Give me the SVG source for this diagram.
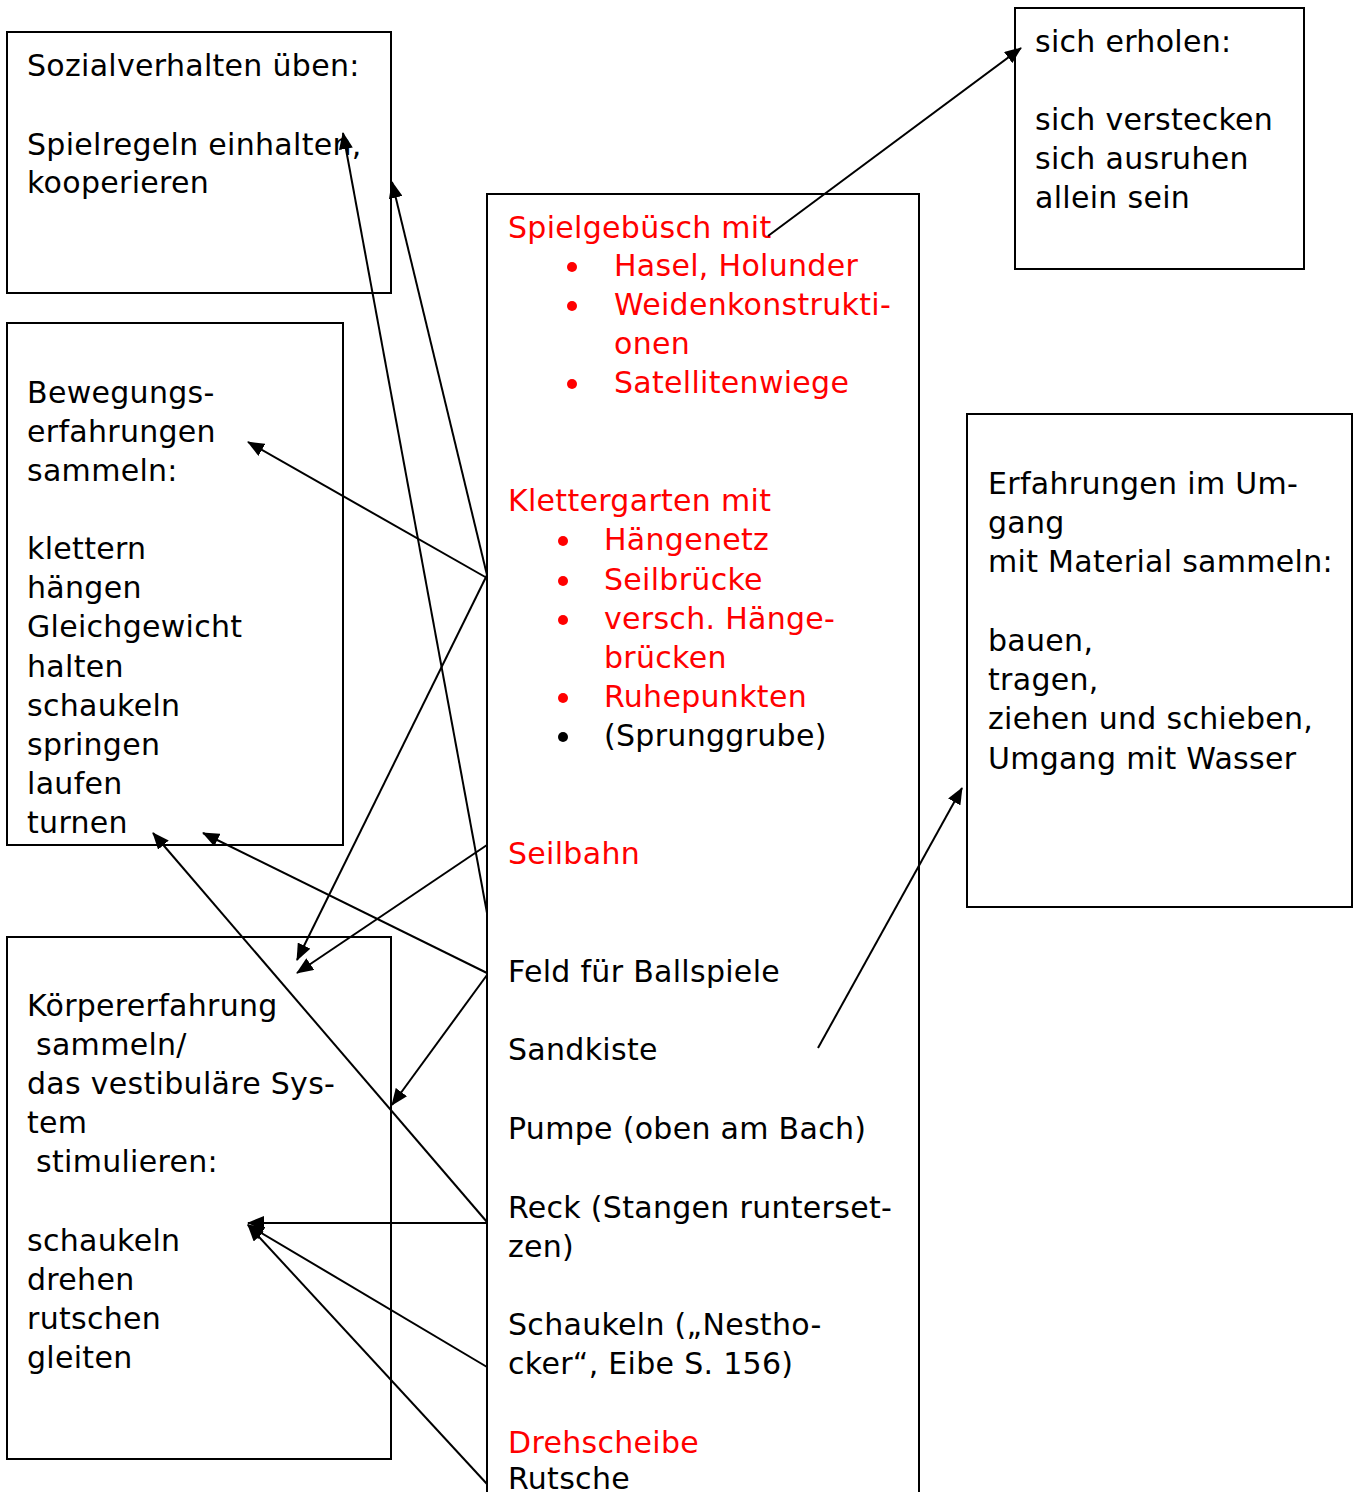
<svg xmlns="http://www.w3.org/2000/svg" width="1353" height="1492" viewBox="0 0 1353 1492">
<style>
.box{fill:#fff;stroke:#000;stroke-width:2}
.t{font-family:"DejaVu Sans",sans-serif;font-size:30px;letter-spacing:0.3px;fill:#000}
.r{fill:#f00}
.c{stroke:#000;stroke-width:2;fill:none;marker-end:url(#ah)}
</style>
<defs>
<marker id="ah" markerUnits="userSpaceOnUse" markerWidth="18" markerHeight="14" refX="16" refY="7" orient="auto">
<path d="M0,0 L17,7 L0,14 Z" fill="#000"/>
</marker>
</defs>
<rect width="1353" height="1492" fill="#fff"/>
<g id="n-sozial">
<rect class="box" x="7" y="32" width="384" height="261"/>
<text class="t" x="27" y="76">Sozialverhalten üben:</text>
<text class="t" x="27" y="155">Spielregeln einhalten,</text>
<text class="t" x="27" y="193">kooperieren</text>
</g>
<g id="n-bewegung">
<rect class="box" x="7" y="323" width="336" height="522"/>
<text class="t" x="27" y="403">Bewegungs-</text>
<text class="t" x="27" y="442">erfahrungen</text>
<text class="t" x="27" y="481">sammeln:</text>
<text class="t" x="27" y="559">klettern</text>
<text class="t" x="27" y="598">hängen</text>
<text class="t" x="27" y="637">Gleichgewicht</text>
<text class="t" x="27" y="677">halten</text>
<text class="t" x="27" y="716">schaukeln</text>
<text class="t" x="27" y="755">springen</text>
<text class="t" x="27" y="794">laufen</text>
<text class="t" x="27" y="833">turnen</text>
</g>
<g id="n-koerper">
<rect class="box" x="7" y="937" width="384" height="522"/>
<text class="t" x="27" y="1016">Körpererfahrung</text>
<text class="t" x="36" y="1055">sammeln/</text>
<text class="t" x="27" y="1094">das vestibuläre Sys-</text>
<text class="t" x="27" y="1133">tem</text>
<text class="t" x="36" y="1172">stimulieren:</text>
<text class="t" x="27" y="1251">schaukeln</text>
<text class="t" x="27" y="1290">drehen</text>
<text class="t" x="27" y="1329">rutschen</text>
<text class="t" x="27" y="1368">gleiten</text>
</g>
<g id="n-center">
<rect class="box" x="487" y="194" width="432" height="1310"/>
<text class="t r" x="508" y="238">Spielgebüsch mit</text>
<circle cx="572" cy="267" r="5" fill="#f00"/>
<text class="t r" x="614" y="276">Hasel, Holunder</text>
<circle cx="572" cy="306" r="5" fill="#f00"/>
<text class="t r" x="614" y="315">Weidenkonstrukti-</text>
<text class="t r" x="614" y="354">onen</text>
<circle cx="572" cy="384" r="5" fill="#f00"/>
<text class="t r" x="614" y="393">Satellitenwiege</text>
<text class="t r" x="508" y="511">Klettergarten mit</text>
<circle cx="563" cy="541" r="5" fill="#f00"/>
<text class="t r" x="604" y="550">Hängenetz</text>
<circle cx="563" cy="581" r="5" fill="#f00"/>
<text class="t r" x="604" y="590">Seilbrücke</text>
<circle cx="563" cy="620" r="5" fill="#f00"/>
<text class="t r" x="604" y="629">versch. Hänge-</text>
<text class="t r" x="604" y="668">brücken</text>
<circle cx="563" cy="698" r="5" fill="#f00"/>
<text class="t r" x="604" y="707">Ruhepunkten</text>
<circle cx="563" cy="737" r="5" fill="#000"/>
<text class="t" x="604" y="746">(Sprunggrube)</text>
<text class="t r" x="508" y="864">Seilbahn</text>
<text class="t" x="508" y="982">Feld für Ballspiele</text>
<text class="t" x="508" y="1060">Sandkiste</text>
<text class="t" x="508" y="1139">Pumpe (oben am Bach)</text>
<text class="t" x="508" y="1218">Reck (Stangen runterset-</text>
<text class="t" x="508" y="1257">zen)</text>
<text class="t" x="508" y="1335">Schaukeln („Nestho-</text>
<text class="t" x="508" y="1374">cker“, Eibe S. 156)</text>
<text class="t r" x="508" y="1453">Drehscheibe</text>
<text class="t" x="508" y="1489">Rutsche</text>
</g>
<g id="n-erholen">
<rect class="box" x="1015" y="8" width="289" height="261"/>
<text class="t" x="1035" y="52">sich erholen:</text>
<text class="t" x="1035" y="130">sich verstecken</text>
<text class="t" x="1035" y="169">sich ausruhen</text>
<text class="t" x="1035" y="208">allein sein</text>
</g>
<g id="n-material">
<rect class="box" x="967" y="414" width="385" height="493"/>
<text class="t" x="988" y="494">Erfahrungen im Um-</text>
<text class="t" x="988" y="533">gang</text>
<text class="t" x="988" y="572">mit Material sammeln:</text>
<text class="t" x="988" y="651">bauen,</text>
<text class="t" x="988" y="690">tragen,</text>
<text class="t" x="988" y="729">ziehen und schieben,</text>
<text class="t" x="988" y="769">Umgang mit Wasser</text>
</g>
<g id="connectors">
<line class="c" x1="487" y1="913" x2="343" y2="133"/>
<line class="c" x1="487" y1="575" x2="392" y2="182"/>
<line class="c" x1="487" y1="578" x2="248" y2="442"/>
<line class="c" x1="487" y1="575" x2="297" y2="960"/>
<line class="c" x1="487" y1="845" x2="297" y2="973"/>
<line class="c" x1="487" y1="973" x2="203" y2="833"/>
<line class="c" x1="487" y1="1222" x2="153" y2="833"/>
<line class="c" x1="487" y1="975" x2="392" y2="1105"/>
<line class="c" x1="487" y1="1223" x2="248" y2="1223"/>
<line class="c" x1="487" y1="1367" x2="248" y2="1225"/>
<line class="c" x1="487" y1="1484" x2="248" y2="1225"/>
<line class="c" x1="768" y1="236" x2="1021" y2="48"/>
<line class="c" x1="818" y1="1048" x2="962" y2="788"/>
</g>
</svg>
